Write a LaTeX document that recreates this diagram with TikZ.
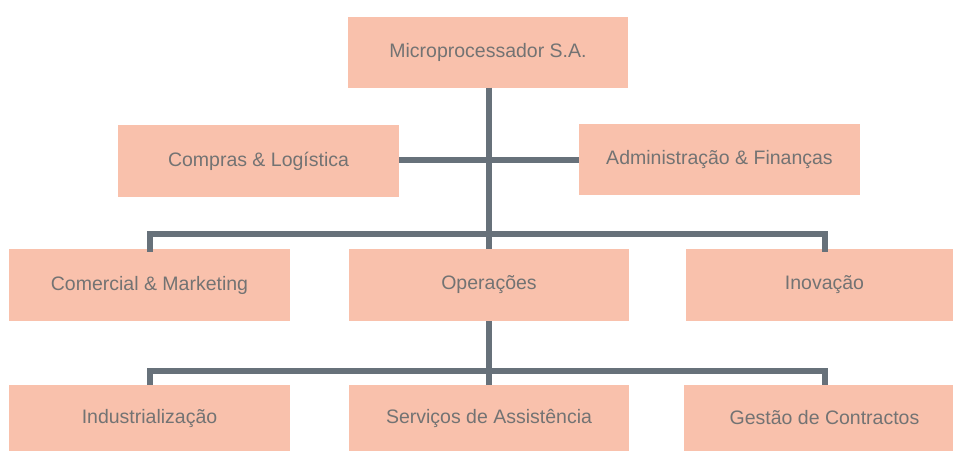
\documentclass[tikz,border=0pt]{standalone}
\usepackage{fontspec}
\setmainfont{Liberation Sans}
\definecolor{boxfill}{HTML}{F9C1AC}
\definecolor{linegray}{HTML}{67717A}
\definecolor{txtgray}{HTML}{737373}
\begin{document}
\begin{tikzpicture}[x=1pt,y=-1pt,
  orgbox/.style={fill=boxfill,draw=none,inner sep=0pt,text=txtgray,font=\fontsize{19.5}{22}\selectfont},
  conn/.style={draw=linegray,line width=6.5pt}]
\useasboundingbox (0,0) rectangle (953,451);
% boxes
\node[orgbox,minimum width=280pt,minimum height=71pt] (top) at (488,52) {\raisebox{4pt}{Microprocessador S.A.}};
\node[orgbox,minimum width=281pt,minimum height=72pt] (comp) at (258.5,161) {Compras \& Logística};
\node[orgbox,minimum width=281pt,minimum height=71pt] (adm) at (719.5,159.5) {Administração \& Finanças};
\node[orgbox,minimum width=281pt,minimum height=72pt] (com) at (149.5,285) {Comercial \& Marketing};
\node[orgbox,minimum width=280pt,minimum height=72pt] (ops) at (489,285) {Operações};
\node[orgbox,minimum width=267pt,minimum height=72pt] (inov) at (819.5,285) {\hspace*{10pt}Inovação};
\node[orgbox,minimum width=281pt,minimum height=66pt] (ind) at (149.5,418) {\raisebox{-3pt}{Industrialização}};
\node[orgbox,minimum width=280pt,minimum height=66pt] (serv) at (489,418) {\raisebox{-3pt}{Serviços de Assistência}};
\node[orgbox,minimum width=269pt,minimum height=66pt] (gest) at (818.5,418) {\hspace*{12pt}\raisebox{-3pt}{Gestão de Contractos}};
% junction coordinates
\coordinate (j1) at (489,160);
\coordinate (j2) at (489,234);
\coordinate (l2) at (150,234);
\coordinate (r2) at (825,234);
\coordinate (j3) at (489,371);
\coordinate (l3) at (150,371);
\coordinate (r3) at (825,371);
% connectors
\draw[conn] (top.south -| j1) -- (j2) -- (ops.north -| j2);
\draw[conn] (comp.east |- j1) -- (adm.west |- j1);
\draw[conn,line cap=rect] (com.north -| l2) -- (l2) -- (r2) -- (inov.north -| r2);
\draw[conn] (ops.south -| j3) -- (serv.north -| j3);
\draw[conn] (ind.north -| l3) -- (l3) -- (r3) -- (gest.north -| r3);
\end{tikzpicture}
\end{document}
